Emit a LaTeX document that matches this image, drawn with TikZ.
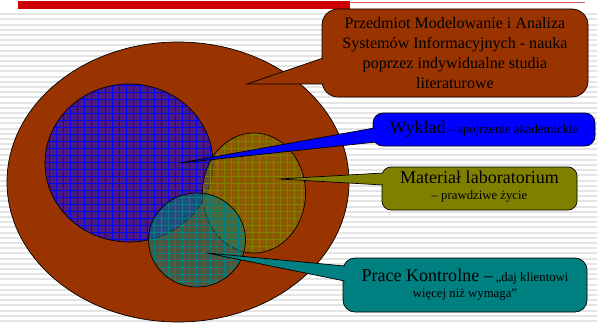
\documentclass[tikz,border=0pt]{standalone}
\usepackage{fontspec}
\setmainfont{Liberation Serif}
\usepackage{tikz}
\usetikzlibrary{calc}

\definecolor{brazowy}{HTML}{993300}
\definecolor{oliwka}{HTML}{808000}
\definecolor{morski}{HTML}{008080}
\definecolor{pasek}{HTML}{CC0000}
\definecolor{tlo}{HTML}{E4E4E4}

\newcommand{\duzy}{\fontsize{15.4}{18}\selectfont}
\newcommand{\maly}{\fontsize{10.9}{15.4}\selectfont}

\tikzset{
  obrys/.style={draw=black, line width=0.6pt},
  dymek/.style={obrys, align=center, inner sep=0pt, text=black},
  kratka/.style={line width=0.45pt, step=7},
}

\begin{document}
\begin{tikzpicture}[x=0.03cm,y=0.03cm]

          \useasboundingbox (0,0) rectangle (597,323);
          \fill[white] (0,0) rectangle (597,323); %tlo
          \foreach \y in {1,6.2,...,312}
            \fill[tlo] (0,\y) rectangle (597,\y+2); %paski tla
          \fill[pasek] (18,314) rectangle (350,322); %czerwony pasek
          \draw[pasek!60, line width=0.8pt] (350,321) -- (585,321);

          \coordinate (S) at (178,141); %srodek duzej elipsy
          \coordinate (W) at (129,160); %srodek kola wykladu
          \coordinate (L) at (254,130); %srodek kola laboratorium
          \coordinate (K) at (197,83); %srodek kola prac kontrolnych

          \filldraw[fill=brazowy, obrys] (S) ellipse [x radius=171, y radius=140]; %przedmiot

          \begin{scope} %wyklad
            \clip (W) ellipse [x radius=84, y radius=79];
            \fill[blue, fill opacity=0.5] (W) ellipse [x radius=84, y radius=79];
            \draw[blue, kratka] (40,75) grid (220,245);
          \end{scope}
          \draw[obrys] (W) ellipse [x radius=84, y radius=79];

          \begin{scope} %laboratorium
            \clip (L) ellipse [x radius=51.5, y radius=60];
            \fill[oliwka, fill opacity=0.5] (L) ellipse [x radius=51.5, y radius=60];
            \draw[oliwka, kratka] (200,70) grid (310,195);
          \end{scope}
          \draw[obrys] (L) ellipse [x radius=51.5, y radius=60];

          \begin{scope} %prace kontrolne
            \clip (K) ellipse [x radius=48.5, y radius=47];
            \fill[morski, fill opacity=0.5] (K) ellipse [x radius=48.5, y radius=47];
            \draw[morski, kratka] (145,35) grid (250,135);
          \end{scope}
          \draw[obrys] (K) ellipse [x radius=48.5, y radius=47];

          \coordinate (tP) at (247,239); %koniec dymka przedmiotu
          \coordinate (tW) at (180,160); %koniec dymka wykladu
          \coordinate (tL) at (279,144); %koniec dymka laboratorium
          \coordinate (tK) at (207,70); %koniec dymka prac

          \node[dymek, fill=brazowy, rounded corners=0.48cm, minimum width=7.98cm, minimum height=2.64cm,
                font=\fontsize{13.7}{17.1}\selectfont] (przedmiot) at (455,270)
                {Przedmiot Modelowanie i Analiza\\Systemów Informacyjnych - nauka\\poprzez indywidualne studia\\literaturowe};
          \filldraw[fill=brazowy, obrys] ($(przedmiot.west)+(1.5,-5)$) -- (tP) -- ($(przedmiot.west)+(2,-31)$);

          \node[dymek, fill=blue, rounded corners=0.3cm, minimum width=6.66cm, minimum height=0.99cm] (wyklad) at (484,193.5)
                {{\duzy Wykład} {\maly – spojrzenie akademickie}};
          \filldraw[fill=blue, obrys] ($(wyklad.west)+(1.5,1.5)$) -- (tW) -- ($(wyklad.west)+(3.5,-12.5)$);

          \node[dymek, fill=oliwka, rounded corners=0.27cm, minimum width=5.85cm, minimum height=1.29cm,
                text depth=6pt] (material) at (479.5,134.5)
                {{\duzy Materiał laboratorium}\\[1.5pt]{\maly – prawdziwe życie}};
          \filldraw[fill=oliwka, obrys] ($(material.west)+(1.5,15.5)$) -- (tL) -- ($(material.west)+(1.5,3.5)$);

          \node[dymek, fill=morski, rounded corners=0.36cm, minimum width=7.32cm, minimum height=1.62cm,
                text depth=3pt] (prace) at (465,38)
                {{\duzy Prace Kontrolne –} {\maly „daj klientowi}\\[1pt]{\maly więcej niż wymaga”}};
          \filldraw[fill=morski, obrys] ($(prace.west)+(2,19)$) -- (tK) -- ($(prace.west)+(2,4)$);

        \end{tikzpicture}
\end{document}
